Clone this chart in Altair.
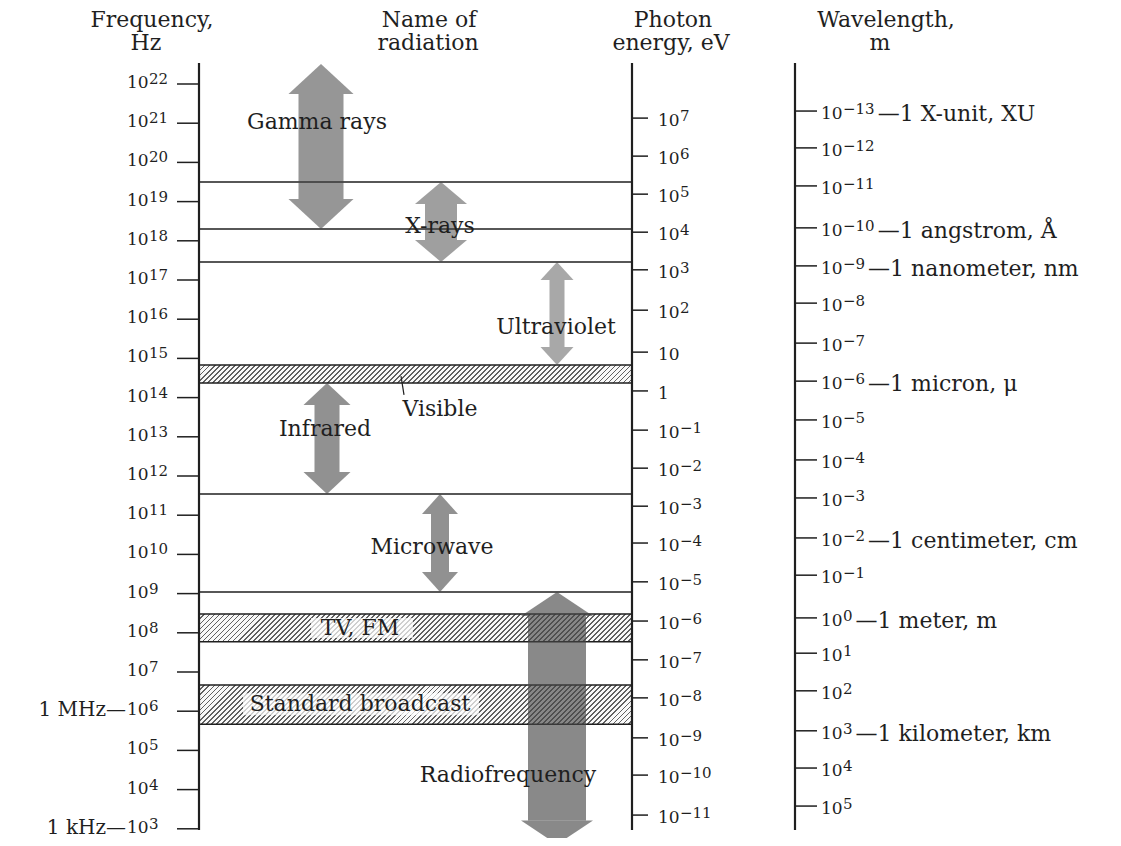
import altair as alt
import pandas as pd

# ---------------- values ----------------
# frequency axis: decades 10^22 ... 10^3 Hz
freq_exps = list(range(22, 2, -1))
freq_prefix_exps = [6, 3]
freq_prefix_texts = ["1 MHz—", "1 kHz—"]

# photon-energy axis: exponent and where its tick sits (log10 Hz)
photon_exps = [7, 6, 5, 4, 3, 2, 1, 0, -1, -2, -3, -4, -5, -6, -7, -8, -9, -10, -11]
photon_at_loghz = [21.13, 20.16, 19.19, 18.22, 17.26, 16.23, 15.16, 14.17, 13.17,
                   12.20, 11.23, 10.29, 9.30, 8.30, 7.31, 6.34, 5.32, 4.37, 3.35]

# wavelength axis
wave_exps = list(range(-13, 6))
wave_at_loghz = [21.31, 20.37, 19.40, 18.33, 17.36, 16.41, 15.39, 14.42, 13.43, 12.41,
                 11.44, 10.42, 9.47, 8.38, 7.48, 6.52, 5.50, 4.55, 3.58]
note_exps = [-13, -10, -9, -6, -2, 0, 3]
note_texts = ["1 X-unit, XU", "1 angstrom, Å", "1 nanometer, nm", "1 micron, μ",
              "1 centimeter, cm", "1 meter, m", "1 kilometer, km"]

# region boundary lines (log10 Hz)
boundary_loghz = [19.5, 18.3, 17.46, 11.54, 9.04]

# hatched bands (log10 Hz)
band_names = ["Visible", "TV, FM", "Standard broadcast"]
band_low = [14.37, 7.77, 5.67]
band_high = [14.83, 8.48, 6.67]

# double-headed arrows (log10 Hz)
arrow_names = ["Gamma rays", "X-rays", "Ultraviolet", "Infrared", "Microwave", "Radiofrequency"]
arrow_top = [22.51, 19.5, 17.46, 14.37, 11.54, 9.04]
arrow_bottom = [18.3, 17.46, 14.83, 11.54, 9.04, 2.6]

# names of radiation (log10 Hz of label centre)
label_texts = ["Gamma rays", "X-rays", "Ultraviolet", "Visible", "Infrared", "Microwave",
               "TV, FM", "Standard broadcast", "Radiofrequency"]
label_loghz = [21.03, 18.38, 15.80, 13.71, 13.20, 10.19, 8.12, 6.18, 4.37]

# ---------------- layout / style ----------------
INK = "#1f1f1f"
ARROW = "#474747"
FONT = "DejaVu Serif"
PPD = 39.2                     # pixels per decade
H = 767
W = 905
L_TOP = 22 + 21 / PPD
L_BOT = L_TOP - H / PPD
E_AXIS = 433                   # photon-energy axis (px from frequency axis)
W_AXIS = 596                   # wavelength axis
F_LABEL_X = -72
E_LABEL_X = 459
W_LABEL_X = 622
BASE_FS = 17
EXP_FS = 15
NAME_FS = 22
HEAD_FS = 22
NOTE_FS = 22
PREFIX_FS = 20

arrow_style = {  # centre x, head width, shaft width, head length, opacity
    "Gamma rays": (122, 65, 45, 30, 0.57),
    "X-rays": (242, 52, 32, 22, 0.52),
    "Ultraviolet": (358, 33, 15, 18, 0.47),
    "Infrared": (128, 47, 25, 22, 0.6),
    "Microwave": (241, 36, 18, 20, 0.6),
    "Radiofrequency": (358, 72, 58, 24, 0.64),
}
label_x = {"Gamma rays": 118, "X-rays": 241, "Ultraviolet": 357, "Visible": 241,
           "Infrared": 126, "Microwave": 233, "TV, FM": 161, "Standard broadcast": 161,
           "Radiofrequency": 309}
label_box = {"TV, FM": (112, 214, 10), "Standard broadcast": (44, 280, 11)}

headers = [("Frequency,", -47, -43), ("Hz", -53, -20),
           ("Name of", 230, -43), ("radiation", 229, -20),
           ("Photon", 474, -43), ("energy, eV", 472, -20),
           ("Wavelength,", 687, -43), ("m", 681, -20)]

yscale = alt.Scale(domain=[L_BOT, L_TOP], nice=False, zero=False)


def Yf(field):
    return alt.Y(f"{field}:Q", scale=yscale, axis=None)


def sup(k):
    return ("−" if k < 0 else "") + str(abs(k))


def exp_width(s, fs=EXP_FS):
    return sum(0.838 * fs if ch == "−" else 0.636 * fs for ch in s)


def hatch(w, h, period=5.0, frac=0.38, dark="#606060", light="#f8f8f8"):
    k = (w + h) / (w * w + h * h)
    n = int(round((w + h) / period))
    stops = []
    for i in range(n):
        a, b, c = i / n, (i + frac) / n, (i + 1) / n
        stops += [{"offset": round(a, 6), "color": dark},
                  {"offset": round(b, 6), "color": dark},
                  {"offset": round(b, 6), "color": light},
                  {"offset": round(c, 6), "color": light}]
    return {"gradient": "linear", "x1": 0, "y1": 0, "x2": w * k, "y2": h * k, "stops": stops}


def axis_labels(df, x0, dy_base, dy_exp):
    return [
        alt.Chart(df).mark_text(align="left", baseline="middle", dy=dy_base, font=FONT,
                                fontSize=BASE_FS, color=INK).encode(
            x=alt.value(x0), y=Yf("v"), text="base:N"),
        alt.Chart(df).mark_text(align="left", baseline="middle", dy=dy_exp, font=FONT,
                                fontSize=EXP_FS, color=INK).encode(
            x=alt.value(x0 + 22), y=Yf("v"), text="exp:N"),
    ]


one = pd.DataFrame({"a": [0]})
layers = []

# hatched bands
for name, lo, hi in zip(band_names, band_low, band_high):
    d = pd.DataFrame({"hi": [hi], "lo": [lo]})
    layers.append(alt.Chart(d).mark_rect(fill=hatch(E_AXIS, (hi - lo) * PPD),
                                         stroke=INK, strokeWidth=1.5).encode(
        x=alt.value(0), x2=alt.value(E_AXIS), y=Yf("hi"), y2=alt.Y2("lo")))

# light boxes behind labels on the hatched bands
for name, (x0, x1, hh) in label_box.items():
    v = label_loghz[label_texts.index(name)]
    d = pd.DataFrame({"v": [v]})
    layers.append(alt.Chart(d).mark_rect(color="#ffffff", opacity=0.7,
                                         yOffset=-hh, y2Offset=hh).encode(
        x=alt.value(x0), x2=alt.value(x1), y=Yf("v"), y2=alt.Y2("v")))

# boundary lines
layers.append(alt.Chart(pd.DataFrame({"v": boundary_loghz})).mark_rule(
    color=INK, strokeWidth=1.6).encode(x=alt.value(0), x2=alt.value(E_AXIS), y=Yf("v")))

# arrows
for name, top, bot in zip(arrow_names, arrow_top, arrow_bottom):
    cx, hw, sw, hl, op = arrow_style[name]
    d = pd.DataFrame({"top": [top], "bot": [bot]})
    r = hl / (hw / 2)
    up = f"M0,0L1,{r:.3f}L-1,{r:.3f}Z"
    down = f"M0,0L1,{-r:.3f}L-1,{-r:.3f}Z"
    layers.append(alt.Chart(d).mark_rect(color=ARROW, opacity=op, yOffset=hl,
                                         y2Offset=-hl).encode(
        x=alt.value(cx - sw / 2), x2=alt.value(cx + sw / 2), y=Yf("top"), y2=alt.Y2("bot")))
    layers.append(alt.Chart(d).mark_point(shape=up, size=hw * hw, filled=True, color=ARROW,
                                          opacity=op, strokeWidth=0).encode(
        x=alt.value(cx), y=Yf("top")))
    layers.append(alt.Chart(d).mark_point(shape=down, size=hw * hw, filled=True, color=ARROW,
                                          opacity=op, strokeWidth=0).encode(
        x=alt.value(cx), y=Yf("bot")))

# pointer to the visible band
layers.append(alt.Chart(pd.DataFrame({"a": [14.55], "b": [14.07]})).mark_rule(
    color=INK, strokeWidth=1.2).encode(x=alt.value(202), x2=alt.value(205),
                                       y=Yf("a"), y2=alt.Y2("b")))

# ---- frequency axis ----
layers.append(alt.Chart(one).mark_rule(color=INK, strokeWidth=2.2).encode(
    x=alt.value(0), y=alt.value(0), y2=alt.value(H)))
freq_df = pd.DataFrame({"v": freq_exps, "base": ["10"] * len(freq_exps),
                        "exp": [sup(k) for k in freq_exps]})
layers.append(alt.Chart(freq_df).mark_rule(color=INK, strokeWidth=1.5).encode(
    x=alt.value(-22), x2=alt.value(0), y=Yf("v")))
layers += axis_labels(freq_df, F_LABEL_X, -1, -5)
pre_df = pd.DataFrame({"v": freq_prefix_exps, "t": freq_prefix_texts})
layers.append(alt.Chart(pre_df).mark_text(align="right", baseline="middle", dy=-1, font=FONT,
                                          fontSize=PREFIX_FS, color=INK).encode(
    x=alt.value(F_LABEL_X - 1), y=Yf("v"), text="t:N"))

# ---- photon energy axis ----
layers.append(alt.Chart(one).mark_rule(color=INK, strokeWidth=2.2).encode(
    x=alt.value(E_AXIS), y=alt.value(0), y2=alt.value(H)))
ph_base = ["1" if k == 0 else "10" for k in photon_exps]
ph_exp = ["" if k in (0, 1) else sup(k) for k in photon_exps]
ph_df = pd.DataFrame({"v": photon_at_loghz, "base": ph_base, "exp": ph_exp})
layers.append(alt.Chart(ph_df).mark_rule(color=INK, strokeWidth=1.5).encode(
    x=alt.value(E_AXIS), x2=alt.value(E_AXIS + 16), y=Yf("v")))
layers += axis_labels(ph_df, E_LABEL_X, 3, -2)

# ---- wavelength axis ----
layers.append(alt.Chart(one).mark_rule(color=INK, strokeWidth=2.2).encode(
    x=alt.value(W_AXIS), y=alt.value(0), y2=alt.value(H)))
wv_df = pd.DataFrame({"v": wave_at_loghz, "base": ["10"] * len(wave_exps),
                      "exp": [sup(k) for k in wave_exps]})
layers.append(alt.Chart(wv_df).mark_rule(color=INK, strokeWidth=1.5).encode(
    x=alt.value(W_AXIS), x2=alt.value(W_AXIS + 22), y=Yf("v")))
layers += axis_labels(wv_df, W_LABEL_X, 3, -2)
for k, t in zip(note_exps, note_texts):
    v = wave_at_loghz[wave_exps.index(k)]
    xn = W_LABEL_X + 22 + exp_width(sup(k)) + 3
    layers.append(alt.Chart(pd.DataFrame({"v": [v], "t": ["—" + t]})).mark_text(
        align="left", baseline="middle", dy=3, font=FONT, fontSize=NOTE_FS,
        color=INK).encode(x=alt.value(xn), y=Yf("v"), text="t:N"))

# ---- names of radiation ----
for t, v in zip(label_texts, label_loghz):
    layers.append(alt.Chart(pd.DataFrame({"v": [v], "t": [t]})).mark_text(
        align="center", baseline="middle", font=FONT, fontSize=NAME_FS, color=INK).encode(
        x=alt.value(label_x[t]), y=Yf("v"), text="t:N"))

# ---- column headers ----
for t, x, y in headers:
    layers.append(alt.Chart(pd.DataFrame({"t": [t]})).mark_text(
        align="center", baseline="middle", font=FONT, fontSize=HEAD_FS, color=INK).encode(
        x=alt.value(x), y=alt.value(y), text="t:N"))

chart = alt.layer(*layers).properties(
    width=W, height=H,
    autosize=alt.AutoSizeParams(type="none"),
    padding={"left": 191, "top": 55, "right": 0, "bottom": 8},
    background="white",
).configure_view(stroke=None)

chart.save("out.html", embed_options={"renderer": "svg", "actions": False})
